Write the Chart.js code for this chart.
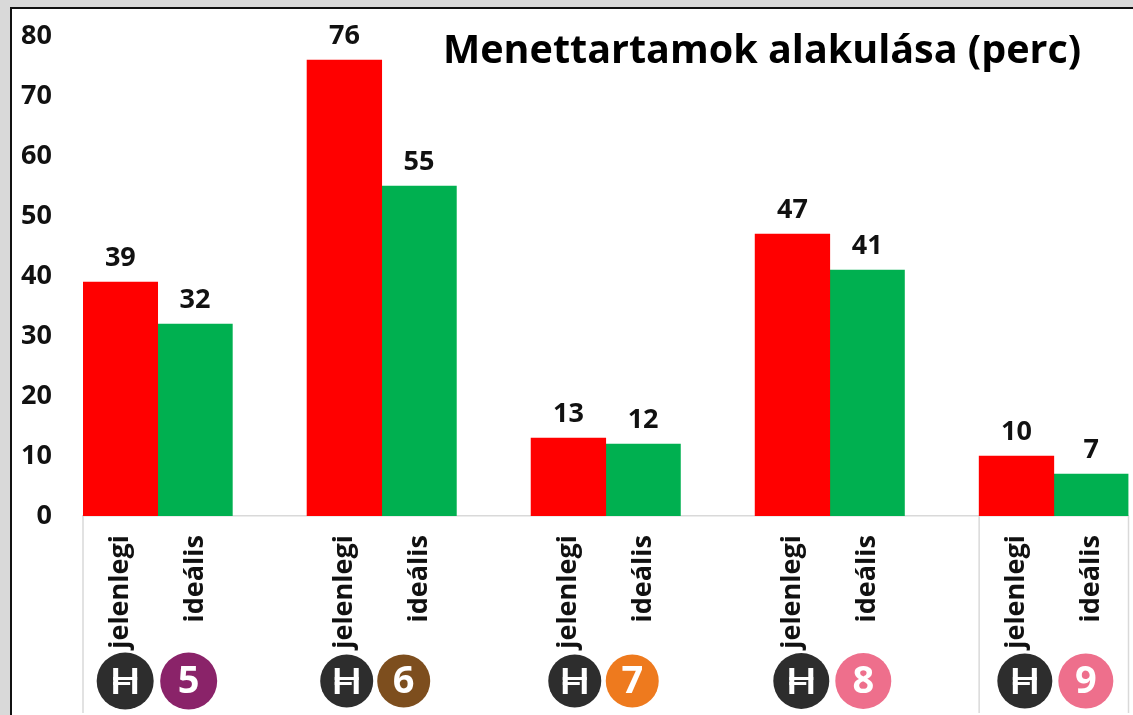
<!DOCTYPE html>
<html>
<head>
<meta charset="utf-8">
<title>Menettartamok alakulása (perc)</title>
<script src="https://cdn.jsdelivr.net/npm/chart.js@4"></script>
<style>
  html, body { margin: 0; padding: 0; width: 1133px; height: 715px; overflow: hidden; background: #d9d9d9; }
  #frame { position: absolute; left: 10px; top: 7px; width: 1200px; height: 800px; background: #fff; border: 2px solid #111; box-sizing: border-box; }
  #chart { position: absolute; left: 0; top: 0; }
</style>
</head>
<body>
<div id="frame"></div>
<canvas id="chart" width="1133" height="715"></canvas>
<script>
const lines = ['5', '6', '7', '8', '9'];
const currentLabel = 'jelenlegi';
const idealLabel = 'ideális';
const currentTimes = [39, 76, 13, 47, 10];
const idealTimes = [32, 55, 12, 41, 7];
const yTicks = [0, 10, 20, 30, 40, 50, 60, 70, 80];
const titleText = 'Menettartamok alakulása (perc)';

const lineColors = ['#8a2369', '#7d4e1e', '#ee7a1e', '#ee6f8c', '#ee6f8c'];
const FONT = '"Open Sans", sans-serif';

// every group takes two bar slots, with one empty slot between groups
const slotLabels = [];
const currentSlots = [];
const idealSlots = [];
lines.forEach((line, i) => {
  if (i > 0) {
    slotLabels.push('');
    currentSlots.push(null);
    idealSlots.push(null);
  }
  slotLabels.push(currentLabel, idealLabel);
  currentSlots.push(currentTimes[i], null);
  idealSlots.push(null, idealTimes[i]);
});

// badge centres relative to the middle of each group: H, line number, radius
const badgeLayout = [
  [-32.5, 31, 28.5],
  [-35, 22, 26.5],
  [-31, 26.5, 26.5],
  [-28.5, 33.5, 28],
  [-29, 32, 27.5]
];

const extras = {
  id: 'extras',
  afterDatasetsDraw(chart) {
    const ctx = chart.ctx;
    const x = chart.scales.x;
    const y = chart.scales.y;

    // value labels above the bars
    ctx.save();
    ctx.fillStyle = '#111';
    ctx.font = '700 27px ' + FONT;
    ctx.textAlign = 'center';
    ctx.textBaseline = 'middle';
    chart.data.datasets.forEach((ds, d) => {
      chart.getDatasetMeta(d).data.forEach((bar, i) => {
        if (ds.data[i] === null) return;
        ctx.fillText(String(ds.data[i]), bar.x, bar.y - 24);
      });
    });

    // title sits over the plot area
    ctx.fillStyle = '#000';
    ctx.font = '700 39.5px ' + FONT;
    ctx.textAlign = 'left';
    ctx.fillText(titleText, 443, 52);

    // separators under the axis
    const slot = x.getPixelForValue(1) - x.getPixelForValue(0);
    const bottom = y.getPixelForValue(0);
    const seps = [x.left, x.getPixelForValue(12) - slot / 2, x.right];
    ctx.strokeStyle = '#d9d9d9';
    ctx.lineWidth = 1.5;
    seps.forEach(px => {
      ctx.beginPath();
      ctx.moveTo(px, bottom);
      ctx.lineTo(px, 713);
      ctx.stroke();
    });

    // line badges
    lines.forEach((line, i) => {
      const mid = x.getPixelForValue(i * 3) + slot / 2;
      const [dh, dn, r] = badgeLayout[i];
      const cy = 681;
      ctx.fillStyle = '#2d2d2d';
      ctx.beginPath();
      ctx.arc(mid + dh, cy, r, 0, Math.PI * 2);
      ctx.fill();
      const hx = mid + dh;
      ctx.fillStyle = '#fff';
      ctx.fillRect(hx - 12, cy - 13, 5, 26);
      ctx.fillRect(hx + 7, cy - 13, 5, 26);
      ctx.fillRect(hx - 12, cy - 4, 24, 3);
      ctx.fillRect(hx - 12, cy + 1, 17, 3);

      ctx.fillStyle = lineColors[i];
      ctx.beginPath();
      ctx.arc(mid + dn, cy, r, 0, Math.PI * 2);
      ctx.fill();
      ctx.fillStyle = '#fff';
      ctx.font = '700 38px ' + FONT;
      ctx.textAlign = 'center';
      ctx.textBaseline = 'middle';
      ctx.fillText(line, mid + dn, cy + 1);
    });
    ctx.restore();
  }
};

new Chart(document.getElementById('chart'), {
  type: 'bar',
  data: {
    labels: slotLabels,
    datasets: [
      { label: currentLabel, data: currentSlots, backgroundColor: '#ff0000' },
      { label: idealLabel, data: idealSlots, backgroundColor: '#00b050' }
    ]
  },
  options: {
    responsive: false,
    animation: false,
    layout: { autoPadding: false, padding: { top: 36, right: 4.5, bottom: 0, left: 0 } },
    datasets: { bar: { categoryPercentage: 1, barPercentage: 1 } },
    plugins: { legend: { display: false }, title: { display: false }, tooltip: { enabled: false } },
    scales: {
      x: {
        stacked: true,
        grid: { display: false },
        border: { display: true, color: '#d9d9d9', width: 1.5 },
        ticks: {
          autoSkip: false,
          minRotation: 90,
          maxRotation: 90,
          padding: 11,
          color: '#111',
          font: { family: FONT, size: 27, weight: '700' }
        },
        afterFit(scale) {
          scale.height = 199;
          scale.paddingLeft = 0;
          scale.paddingRight = 0;
        }
      },
      y: {
        min: 0,
        max: 80,
        afterBuildTicks(scale) { scale.ticks = yTicks.map(v => ({ value: v })); },
        grid: { display: false },
        border: { display: false },
        ticks: {
          padding: 23,
          color: '#111',
          font: { family: FONT, size: 27, weight: '700' }
        },
        afterFit(scale) {
          scale.width = 83;
          scale.paddingTop = 0;
          scale.paddingBottom = 0;
        }
      }
    }
  },
  plugins: [extras]
});
</script>
</body>
</html>
